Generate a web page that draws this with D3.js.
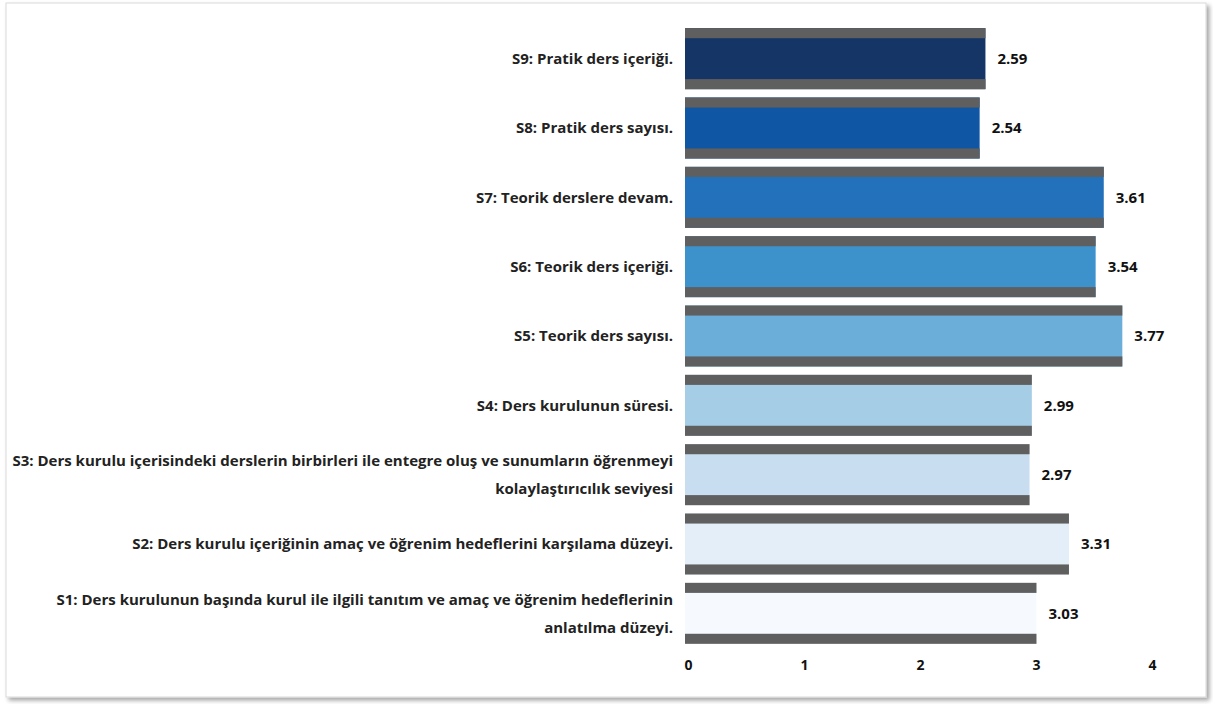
<!DOCTYPE html>
<html>
<head>
<meta charset="utf-8">
<script src="https://cdn.jsdelivr.net/npm/d3@7"></script>
<style>
  body { margin: 0; background: #fff; }
  svg { display: block; font-family: "Open Sans", Lato, sans-serif; }
</style>
</head>
<body>
<script>
// categories, top to bottom as in the picture
const categories = [
  "S9: Pratik ders içeriği.",
  "S8: Pratik ders sayısı.",
  "S7: Teorik derslere devam.",
  "S6: Teorik ders içeriği.",
  "S5: Teorik ders sayısı.",
  "S4: Ders kurulunun süresi.",
  "S3: Ders kurulu içerisindeki derslerin birbirleri ile entegre oluş ve sunumların öğrenmeyi\nkolaylaştırıcılık seviyesi",
  "S2: Ders kurulu içeriğinin amaç ve öğrenim hedeflerini karşılama düzeyi.",
  "S1: Ders kurulunun başında kurul ile ilgili tanıtım ve amaç ve öğrenim hedeflerinin\nanlatılma düzeyi."
];
const values = [2.59, 2.54, 3.61, 3.54, 3.77, 2.99, 2.97, 3.31, 3.03];
const colors = ["#143566", "#0f57a4", "#2471bb", "#3e92cc", "#6aaed9", "#a6cde6", "#c9ddf0", "#e3eef9", "#f6fafe"];
const xTicks = [0, 1, 2, 3, 4];

const width = 1213, height = 704;

const svg = d3.select("body").append("svg")
    .attr("width", width)
    .attr("height", height);

// frame with soft shadow
const defs = svg.append("defs");
const f = defs.append("filter").attr("id", "shadow")
    .attr("x", "-2%").attr("y", "-2%").attr("width", "104%").attr("height", "104%");
f.append("feDropShadow").attr("dx", 3).attr("dy", 3).attr("stdDeviation", 2)
    .attr("flood-color", "#000").attr("flood-opacity", 0.35);

svg.append("rect")
    .attr("x", 6).attr("y", 3)
    .attr("width", 1200).attr("height", 694)
    .attr("fill", "#fff")
    .attr("stroke", "#d9d9d9")
    .attr("filter", "url(#shadow)");

var x = d3.scaleLinear().domain([0, 4]).range([685, 1149]);
var y = d3.scaleBand().domain(categories).range([24, 648])
    .paddingInner(0.12).paddingOuter(0.06);

var bw = y.bandwidth();
var strip = bw * 0.165;

var g = svg.append("g").selectAll("g")
    .data(categories)
    .enter().append("g");

// colored body
g.append("rect")
    .attr("x", x(0))
    .attr("y", d => y(d))
    .attr("width", (d, i) => x(values[i]) - x(0))
    .attr("height", bw)
    .attr("fill", (d, i) => colors[i]);

// dark strips top and bottom
g.append("rect")
    .attr("x", x(0))
    .attr("y", d => y(d))
    .attr("width", (d, i) => x(values[i]) - x(0))
    .attr("height", strip)
    .attr("fill", "#5f5f5f");
g.append("rect")
    .attr("x", x(0))
    .attr("y", d => y(d) + bw - strip)
    .attr("width", (d, i) => x(values[i]) - x(0))
    .attr("height", strip)
    .attr("fill", "#5f5f5f");

// value labels
g.append("text")
    .attr("x", (d, i) => x(values[i]) + 12)
    .attr("y", d => y(d) + bw / 2)
    .attr("dy", "0.35em")
    .attr("font-size", 15)
    .attr("font-weight", "bold")
    .attr("fill", "#111")
    .text((d, i) => values[i].toFixed(2));

// category labels
g.append("text")
    .attr("text-anchor", "end")
    .attr("font-size", 15)
    .attr("font-weight", "bold")
    .attr("fill", "#222")
    .each(function(d) {
        var lines = d.split("\n");
        var t = d3.select(this);
        var lh = 28;
        var top = y(d) + bw / 2 - (lines.length - 1) * lh / 2;
        lines.forEach(function(l, k) {
            t.append("tspan")
                .attr("x", 673)
                .attr("y", top + k * lh)
                .attr("dy", "0.35em")
                .text(l);
        });
    });

// x axis
var axis = svg.append("g")
    .attr("transform", "translate(3,656)")
    .call(d3.axisBottom(x).tickValues(xTicks).tickSize(0).tickPadding(4).tickFormat(d3.format("d")));
axis.select(".domain").remove();
axis.selectAll("text")
    .attr("font-size", 14)
    .attr("font-weight", "bold")
    .attr("font-family", "'Open Sans', sans-serif")
    .attr("fill", "#111");
</script>
</body>
</html>
